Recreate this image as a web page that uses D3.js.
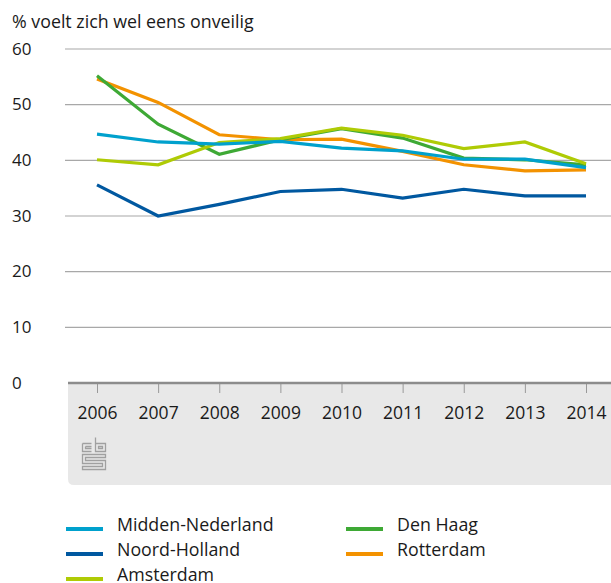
<!DOCTYPE html>
<html>
<head>
<meta charset="utf-8">
<script src="https://cdn.jsdelivr.net/npm/d3@7"></script>
<style>
  body { margin: 0; background: #fff; }
  text { font-family: "Open Sans", "Noto Sans", sans-serif; fill: #1a1a1a; }
</style>
</head>
<body>
<div id="app"></div>
<script>
const years = [2006, 2007, 2008, 2009, 2010, 2011, 2012, 2013, 2014];
const yTicks = [0, 10, 20, 30, 40, 50, 60];

const middenNederland = [44.7, 43.3, 42.9, 43.4, 42.2, 41.7, 40.2, 40.2, 38.7];
const noordHolland = [35.6, 30.0, 32.1, 34.4, 34.8, 33.2, 34.8, 33.6, 33.6];
const amsterdam = [40.1, 39.2, 43.2, 43.9, 45.8, 44.5, 42.1, 43.3, 39.4];
const denHaag = [55.2, 46.5, 41.1, 43.7, 45.7, 44.0, 40.4, 40.1, 39.2];
const rotterdam = [54.6, 50.4, 44.6, 43.7, 43.8, 41.6, 39.2, 38.1, 38.3];

const seriesNames = ["Midden-Nederland", "Noord-Holland", "Amsterdam", "Den Haag", "Rotterdam"];
const seriesColors = ["#00a1cd", "#0058a0", "#afcb05", "#3ea935", "#f39200"];
const seriesValues = [middenNederland, noordHolland, amsterdam, denHaag, rotterdam];
// drawing order (later on top)
const drawOrder = ["Rotterdam", "Den Haag", "Amsterdam", "Midden-Nederland", "Noord-Holland"];

const W = 611, H = 583;
const svg = d3.select("#app").append("svg")
    .attr("width", W)
    .attr("height", H);

const x = d3.scalePoint(years, [97, 586]);
const y = d3.scaleLinear([0, 60], [383, 49]);

// title
svg.append("text")
    .attr("x", 12).attr("y", 28)
    .attr("font-size", 17.8)
    .text("% voelt zich wel eens onveilig");

// grey band under the axis
svg.append("path")
    .attr("fill", "#e8e8e8")
    .attr("d", (() => {
        const x0 = 68, y0 = y(0), x1 = W, y1 = 485, r = 6;
        return `M${x0},${y0}H${x1}V${y1}H${x0 + r}Q${x0},${y1} ${x0},${y1 - r}Z`;
    })());

// gridlines + y labels
svg.append("g")
    .selectAll("line")
    .data(yTicks.filter(d => d > 0))
    .join("line")
    .attr("x1", 65).attr("x2", W)
    .attr("y1", d => y(d)).attr("y2", d => y(d))
    .attr("stroke", "#a8a8a8")
    .attr("stroke-width", 1.2);

svg.append("g")
    .selectAll("text")
    .data(yTicks)
    .join("text")
    .attr("x", 12)
    .attr("y", d => y(d) - 1)
    .attr("dominant-baseline", "central")
    .attr("font-size", 17)
    .text(d => d);

// x axis
const xAxis = svg.append("g")
    .attr("transform", `translate(0,${y(0)})`)
    .call(d3.axisBottom(x).tickSize(10).tickPadding(14).tickSizeOuter(0));
xAxis.select(".domain").remove();
xAxis.selectAll(".tick line").attr("stroke", "#999").attr("stroke-width", 1);
xAxis.selectAll(".tick text")
    .attr("font-size", 17.5)
    .attr("font-family", "\"Open Sans\", \"Noto Sans\", sans-serif")
    .attr("fill", "#1a1a1a");
svg.append("line")
    .attr("x1", 68).attr("x2", W)
    .attr("y1", y(0)).attr("y2", y(0))
    .attr("stroke", "#8c8c8c")
    .attr("stroke-width", 2.5);

// cbs logo
const logo = svg.append("g")
    .attr("transform", "translate(82,437)")
    .attr("fill", "none")
    .attr("stroke", "#a0a0a0")
    .attr("stroke-width", 1.3);
logo.append("path").attr("d", "M0.5,6.5H9.5M0.5,6.5V14.5H9.5M3.5,9.5H9.5M3.5,9.5V11.5H9.5");
logo.append("path").attr("d", "M13.5,0.5V14.5H23.5V6.5H13.5M16.5,9.5H20.5V11.5H16.5Z");
logo.append("path").attr("d", "M0.5,17.5H23.5V20.5H3.5V23.5H23.5V32.5H0.5V29.5H20.5V26.5H0.5Z");

// lines
const line = d3.line()
    .x((d, i) => x(years[i]))
    .y(d => y(d));

svg.append("g")
    .selectAll("path")
    .data(drawOrder.map(n => seriesNames.indexOf(n)))
    .join("path")
    .attr("fill", "none")
    .attr("stroke", i => seriesColors[i])
    .attr("stroke-width", 3.2)
    .attr("stroke-linejoin", "miter")
    .attr("d", i => line(seriesValues[i]));

// legend
const legendPos = [[66, 525], [66, 550], [66, 575], [346, 525], [346, 550]];
const legend = svg.append("g")
    .selectAll("g")
    .data(seriesNames)
    .join("g")
    .attr("transform", (d, i) => `translate(${legendPos[i][0]},${legendPos[i][1]})`);
legend.append("line")
    .attr("x1", 0).attr("x2", 37)
    .attr("y1", 4).attr("y2", 4)
    .attr("stroke", (d, i) => seriesColors[i])
    .attr("stroke-width", 4);
legend.append("text")
    .attr("x", 51).attr("y", 6)
    .attr("font-size", 17.8)
    .text(d => d);
</script>
</body>
</html>
